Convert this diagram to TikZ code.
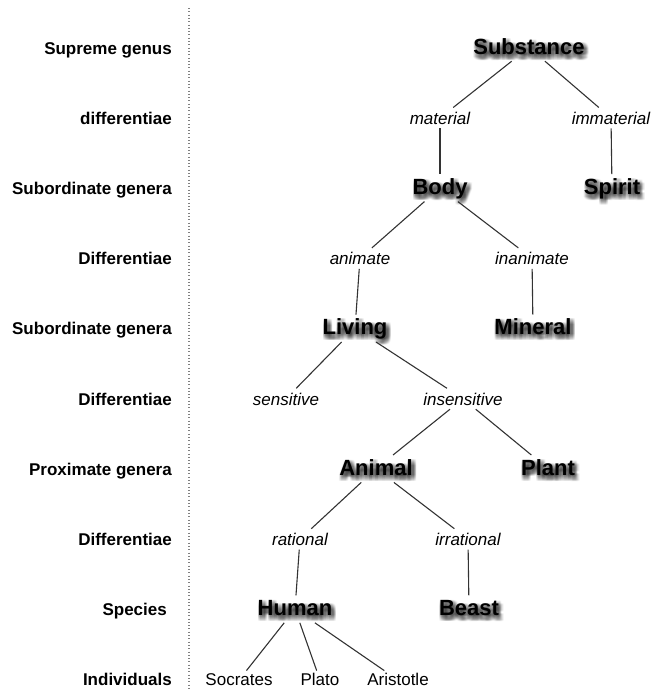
\documentclass[tikz,border=0pt]{standalone}
\usepackage{fontspec}
\setmainfont{Liberation Sans}
\usetikzlibrary{backgrounds,fadings}
\tikzstyle{genus}=[font=\fontsize{22}{26}\selectfont\bfseries,text height=16pt,text depth=3pt,inner xsep=2pt,inner ysep=4pt,anchor=base]
\tikzstyle{gshadow}=[genus,text=transparent!0,text opacity=0.04]
\tikzstyle{diff}=[font=\fontsize{17}{20}\selectfont\itshape,text height=13pt,text depth=0.5pt,inner xsep=2pt,inner ysep=3.5pt,anchor=base]
\tikzstyle{indiv}=[font=\fontsize{17}{20}\selectfont,text height=12pt,text depth=0.5pt,inner xsep=2pt,inner ysep=3pt,anchor=base]
\tikzstyle{level}=[font=\fontsize{17}{20}\selectfont\bfseries,anchor=base east,inner sep=0pt]
\tikzstyle{edge}=[line width=1.1pt,draw=black!80]
\newcommand\genuslist{Substance/529/0, Body/440/2, Spirit/612/2,
  Living/355/4, Mineral/533/4, Animal/376/6, Plant/548/6,
  Human/295/8, Beast/469/8}

\begin{tikzfadingfrompicture}[name=genusshade,x=1pt,y=-1pt]
  \fill[transparent] (0,0) rectangle (655,691);
  \foreach \gname/\gx/\gy in \genuslist
    \foreach \sx in {-1,0,...,5}
      \foreach \sy in {0,...,6}
        \node[gshadow] (\gname-s\sx\sy) at ({\gx+\sx},{54+70.2*\gy+\sy}) {\gname};
\end{tikzfadingfrompicture}

\begin{document}
\begin{tikzpicture}[x=1pt,y=-1pt]
  \useasboundingbox (0,0) rectangle (655,691);
  \foreach \ltext/\lx/\ly [count=\i] in {
    Supreme genus/172/0,
    differentiae/172/1,
    Subordinate genera/172/2,
    Differentiae/172/3,
    Subordinate genera/172/4,
    Differentiae/172/5,
    Proximate genera/172/6,
    Differentiae/172/7,
    Species/167/8,
    Individuals/172/9}
  {
    \node[level] (lab\i) at (\lx,{54+70.2*\ly}) {\ltext};
  }
  \coordinate (septop) at (189,8);
  \coordinate (sepbot) at (189,691);
  \draw[gray,line width=1.2pt,dash pattern=on 1pt off 2.3pt] (septop) -- (sepbot);

  \fill[black,path fading=genusshade,fit fading=false,
    fading transform={shift={(327.5,345.5)}}] (0,0) rectangle (655,691);
  \foreach \gname/\gx/\gy in \genuslist
  {
    \node[genus] (\gname) at (\gx,{54+70.2*\gy}) {\gname};
  }
  \foreach \dname/\dx/\dy in {
    material/440/1, immaterial/611/1,
    animate/360/3, inanimate/532/3,
    sensitive/286/5, insensitive/463/5,
    rational/300/7, irrational/468/7}
  {
    \node[diff] (\dname) at (\dx,{54+70.2*\dy}) {\dname};
  }
  \foreach \iname/\ix in {Socrates/239, Plato/320, Aristotle/398}
    \node[indiv] (\iname) at (\ix,{54+70.2*9}) {\iname};

  \foreach \a/\b in {
    Substance/material, Substance/immaterial,
    material/Body, immaterial/Spirit,
    Body/animate, Body/inanimate,
    animate/Living, inanimate/Mineral,
    Living/sensitive, Living/insensitive,
    insensitive/Animal, insensitive/Plant,
    Animal/rational, Animal/irrational,
    rational/Human, irrational/Beast,
    Human/Socrates, Human/Plato, Human/Aristotle}
    \draw[edge] (\a) -- (\b);
\end{tikzpicture}
\end{document}
